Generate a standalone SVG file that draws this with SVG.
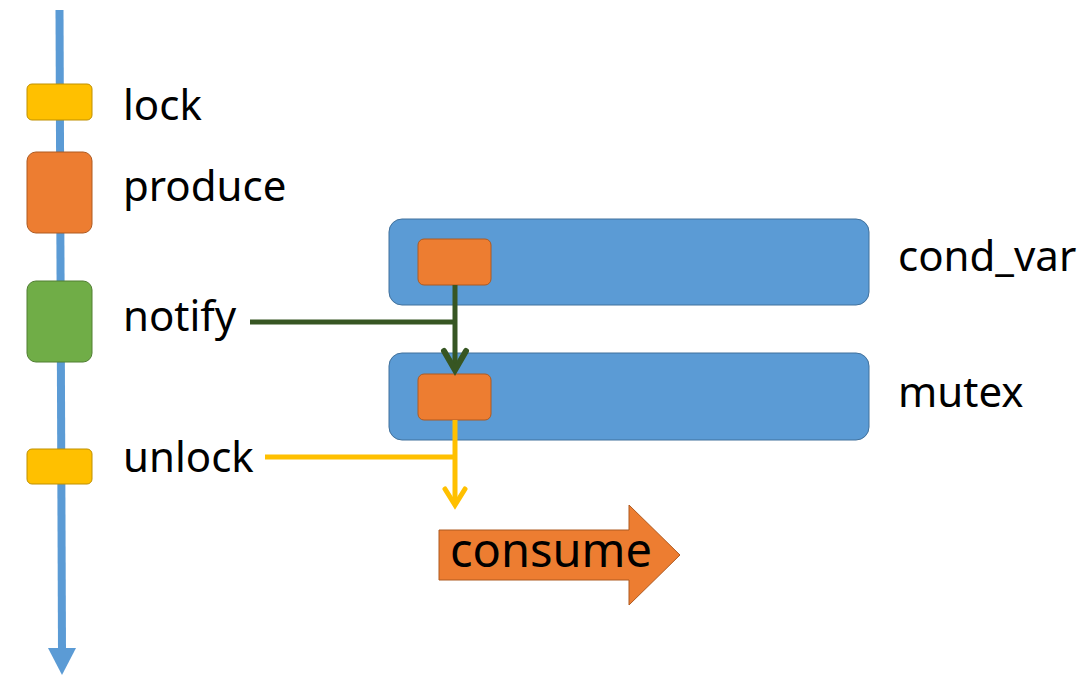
<svg xmlns="http://www.w3.org/2000/svg" width="1092" height="692" viewBox="0 0 1092 692">
<defs>
<style>
.lbl{font-family:"Noto Sans","Liberation Sans",sans-serif;font-size:42px;fill:#000}
.yel{fill:#FFC000;stroke:#BF9000;stroke-width:1}
.org{fill:#ED7D31;stroke:#AE5A21;stroke-width:1}
.grn{fill:#70AD47;stroke:#507E32;stroke-width:1}
.blu{fill:#5B9BD5;stroke:#41719C;stroke-width:1}
</style>
</defs>
<rect width="1092" height="692" fill="#fff"/>
<g id="timeline">
<line x1="59.5" y1="10" x2="62" y2="650" stroke="#5B9BD5" stroke-width="8"/>
<polygon points="48,648 76,648 62,675" fill="#5B9BD5"/>
</g>
<g id="lock"><rect class="yel" x="27" y="84" width="65" height="36" rx="5"/><text class="lbl" x="123" y="120">lock</text></g>
<g id="produce"><rect class="org" x="27" y="152" width="65" height="81" rx="9"/><text class="lbl" x="123" y="201">produce</text></g>
<g id="notify"><rect class="grn" x="27" y="281" width="65" height="81" rx="9"/><text class="lbl" x="123" y="331">notify</text></g>
<g id="unlock"><rect class="yel" x="27" y="449" width="65" height="35" rx="5"/><text class="lbl" x="123" y="472">unlock</text></g>
<g id="cond_var"><rect class="blu" x="389" y="219" width="480" height="86" rx="13"/><rect class="org" x="418" y="239" width="73" height="46" rx="6"/><text class="lbl" x="898" y="271">cond_var</text></g>
<g id="mutex"><rect class="blu" x="389" y="353" width="480" height="87" rx="13"/><rect class="org" x="418" y="374" width="73" height="46" rx="6"/><text class="lbl" x="898" y="407">mutex</text></g>
<g id="connectors" fill="none" stroke-width="5">
<polyline points="250,322 455,322" stroke="#375623"/>
<line x1="455" y1="285" x2="455" y2="370" stroke="#375623"/>
<polyline points="444,351 455,370 466,351" stroke="#375623" stroke-width="6" stroke-linecap="round" stroke-linejoin="miter"/>
<polyline points="265,457 455,457" stroke="#FFC000"/>
<line x1="455" y1="420" x2="455" y2="504" stroke="#FFC000"/>
<polyline points="445,489 455,505 465,489" stroke="#FFC000" stroke-width="5" stroke-linecap="round"/>
</g>
<g id="consume">
<polygon class="org" points="439,530 629,530 629,505 680,555 629,605 629,580 439,580"/>
<text x="450" y="567" font-family="Noto Sans, Liberation Sans, sans-serif" font-size="47" fill="#000">consume</text>
</g>
</svg>
